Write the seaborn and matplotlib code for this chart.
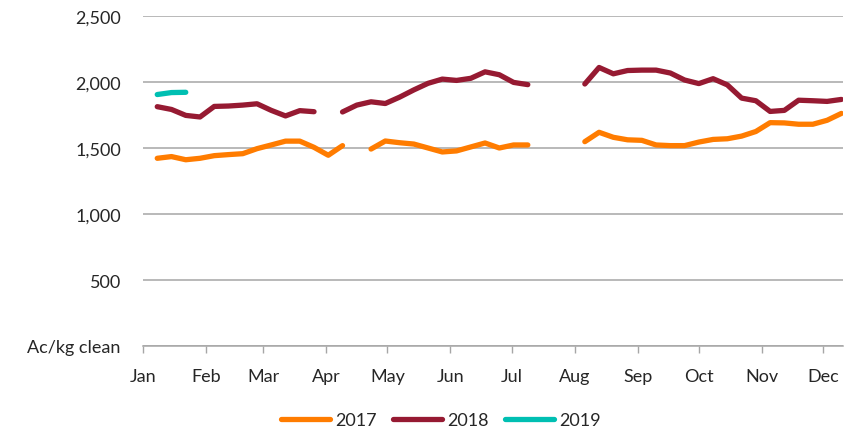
import numpy as np
import pandas as pd
import matplotlib
matplotlib.use("Agg")
import matplotlib.pyplot as plt
import matplotlib.dates as mdates
import seaborn as sns

nan = np.nan

# ---- data (weekly prices, Ac/kg clean) ----
weeks = pd.date_range("2018-01-08", periods=49, freq="7D")
series_names = ["2017", "2018", "2019"]

y2017 = [1422, 1435, 1411, 1422, 1442, 1450, 1457, 1495, 1523, 1552,
         1552, 1505, 1445, 1518, nan, 1492, 1553, 1540, 1530, 1500,
         1470, 1478, 1508, 1538, 1500, 1523, 1523, nan, nan, nan,
         1548, 1619, 1581, 1562, 1558, 1523, 1518, 1518, 1545, 1565,
         1570, 1590, 1625, 1692, 1690, 1680, 1680, 1710, 1762]

y2018 = [1813, 1792, 1747, 1735, 1815, 1818, 1825, 1835, 1785, 1743,
         1783, 1775, nan, 1773, 1825, 1850, 1837, 1885, 1940, 1990,
         2022, 2012, 2028, 2077, 2055, 1997, 1980, nan, nan, nan,
         1985, 2110, 2062, 2087, 2090, 2090, 2068, 2015, 1988, 2025,
         1978, 1878, 1858, 1777, 1785, 1862, 1858, 1853, 1868]

y2019 = [1905, 1920, 1922]

month_labels = ["Jan", "Feb", "Mar", "Apr", "May", "Jun",
                "Jul", "Aug", "Sep", "Oct", "Nov", "Dec"]
ytick_values = [0, 500, 1000, 1500, 2000, 2500]
ytick_labels = ["Ac/kg clean", "500", "1,000", "1,500", "2,000", "2,500"]

colors = ["#FF7C00", "#961A32", "#00BFB2"]

# ---- build long table, splitting each series at gaps ----
rows = []
for name, vals in zip(series_names, [y2017, y2018, y2019]):
    seg = 0
    gap = True
    for d, v in zip(weeks, vals):
        if v is None or np.isnan(v):
            gap = True
            continue
        if gap:
            seg += 1
            gap = False
        rows.append({"date": d, "price": v, "year": name, "seg": f"{name}-{seg}"})
df = pd.DataFrame(rows)

sns.set_theme(style="white")
plt.rcParams["font.family"] = ["Lato", "DejaVu Sans"]

fig = plt.figure(figsize=(8.44, 4.35), dpi=100)
ax = fig.add_axes([143 / 844, 88 / 435, 700 / 844, 330 / 435])

sns.lineplot(data=df, x="date", y="price", hue="year", units="seg",
             estimator=None, palette=dict(zip(series_names, colors)),
             hue_order=series_names, linewidth=3.8, ax=ax,
             solid_capstyle="round", solid_joinstyle="round")

handles, labels = ax.get_legend_handles_labels()
if ax.get_legend() is not None:
    ax.get_legend().remove()

start = pd.Timestamp("2018-01-01")
ax.set_xlim(start, start + pd.Timedelta(days=343.8))
ax.set_ylim(0, 2500)

ax.xaxis.set_major_locator(mdates.MonthLocator())
ax.xaxis.set_major_formatter(mdates.DateFormatter("%b"))
ax.set_yticks(ytick_values)
ax.set_yticklabels(ytick_labels)
ax.set_xlabel("")
ax.set_ylabel("")

text_color = "#262626"
grid_color = "#A6A6A6"
ax.yaxis.grid(True, color=grid_color, linewidth=1.1)
ax.xaxis.grid(False)
ax.set_axisbelow(True)
for s in ["top", "right", "left"]:
    ax.spines[s].set_visible(False)
ax.spines["bottom"].set_color(grid_color)
ax.spines["bottom"].set_linewidth(1.1)

ax.tick_params(axis="y", length=0, pad=16, labelsize=13, labelcolor=text_color)
ax.tick_params(axis="x", length=5, width=1, color=grid_color, direction="out",
               pad=10.5, labelsize=13, labelcolor=text_color, bottom=True)

leg = fig.legend(handles, labels, loc="center", bbox_to_anchor=(441 / 844, 1 - 421 / 435),
                 ncol=3, frameon=False, fontsize=13, handlelength=2.7,
                 handletextpad=0.3, columnspacing=0.9, labelcolor=text_color)
for h in leg.legend_handles:
    h.set_linewidth(3.8)
    h.set_solid_capstyle("round")

fig.savefig("out.png", dpi=100)
